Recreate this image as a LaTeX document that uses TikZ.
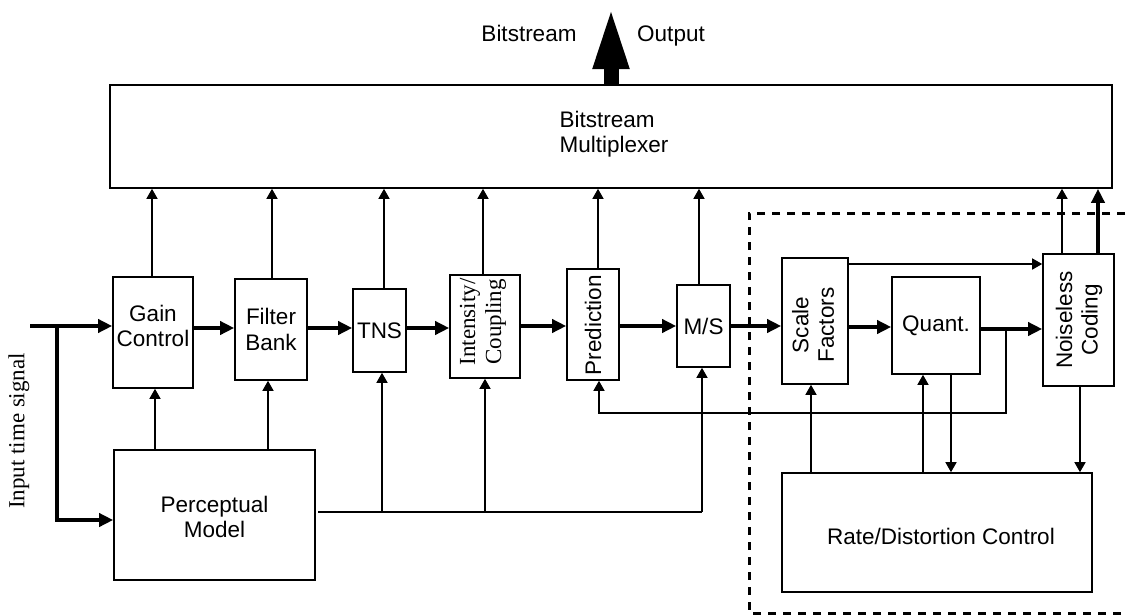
\documentclass[tikz,border=0pt]{standalone}
\usepackage{fontspec}
\setmainfont{Liberation Serif}
\newfontfamily\arial{Liberation Sans}
\usetikzlibrary{arrows.meta}
\begin{document}
\begin{tikzpicture}[x=1pt,y=-1pt,
  blk/.style={draw, line width=1.6pt, inner sep=0pt, rectangle},
  txt/.style={font=\arial\fontsize{22.5}{25.5}\selectfont, align=center, inner sep=0pt},
  stxt/.style={font=\fontsize{23}{26}\selectfont, align=center, inner sep=0pt},
  thk/.style={line width=4pt, -{Triangle[length=14pt,width=13pt]}},
  thkline/.style={line width=4pt},
  thn/.style={line width=1.5pt, -{Triangle[length=10pt,width=11pt]}},
  thnline/.style={line width=1.5pt},
  big/.style={line width=15pt, -{Triangle[length=64pt,width=32pt]}},
  dashbox/.style={line width=3pt, dash pattern=on 8pt off 7pt}]
\useasboundingbox (0,0) rectangle (1128,616);

% boxes
\node[blk, minimum width=1002pt, minimum height=103pt] (mux) at (611,136.5) {};
\node[txt, align=left] (muxt) at (614,134) {Bitstream\\Multiplexer};
\node[blk, minimum width=80pt, minimum height=111pt] (gain) at (153,332.5) {};
\node[txt] (gaint) at (153,326) {Gain\\Control};
\node[blk, minimum width=72pt, minimum height=101pt, txt] (filt) at (271,329.5) {Filter\\Bank};
\node[blk, minimum width=53pt, minimum height=83pt, txt] (tns) at (379.5,330.5) {TNS};
\node[blk, minimum width=70pt, minimum height=103pt] (inten) at (485,326.5) {};
\node[stxt, rotate=90] (intent) at (483,322) {Intensity/\\Coupling};
\node[blk, minimum width=52pt, minimum height=111pt] (pred) at (593,324.5) {};
\node[txt, rotate=90] (predt) at (593,325) {Prediction};
\node[blk, minimum width=53pt, minimum height=82pt, txt] (ms) at (703.5,326) {M/S};
\node[blk, minimum width=201pt, minimum height=130pt] (pm) at (214.5,515) {};
\node[txt] (pmt) at (214.5,517) {Perceptual\\Model};
\node[blk, minimum width=66pt, minimum height=126pt] (sf) at (815,321) {};
\node[txt, rotate=90] (sft) at (813,325) {Scale\\Factors};
\node[blk, minimum width=88pt, minimum height=97pt, txt] (quant) at (936,325.5) {Quant.};
\node[blk, minimum width=71pt, minimum height=132pt] (nc) at (1078.5,320) {};
\node[txt, rotate=90] (nct) at (1079,320) {Noiseless\\Coding};
\node[blk, minimum width=310pt, minimum height=119pt] (rd) at (937,532.5) {};
\node[txt] (rdt) at (941,536) {Rate/Distortion Control};

% labels
\node[txt, anchor=base] (bsl) at (529,41) {Bitstream};
\node[txt, anchor=base] (outl) at (671,41) {Output};
\node[stxt, rotate=90] (inl) at (19,431) {Input time signal};

% dashed region
\draw[dashbox] (1140,213) -- (749,213) -- (749,613) -- (1140,613);

% output arrow
\coordinate (outtip) at (611,5);
\draw[big] (mux.north) -- (outtip);

% y levels
\coordinate (y326) at (0,326);
\coordinate (y327) at (0,327);
\coordinate (y328) at (0,328);
\coordinate (y329) at (0,329);
\coordinate (y264) at (0,264);
\coordinate (y512) at (0,512);
\coordinate (y520) at (0,520);
\coordinate (y413) at (0,413);

% main signal path
\coordinate (in) at (30,326);
\coordinate (br) at (57,326);
\draw[thk] (in) -- (in -| gain.west);
\draw[thk] (br) |- (pm.west |- y520);
\draw[thk] (gain.east |- y328) -- (filt.west |- y328);
\draw[thk] (filt.east |- y328) -- (tns.west |- y328);
\draw[thk] (tns.east |- y328) -- (inten.west |- y328);
\draw[thk] (inten.east |- y326) -- (pred.west |- y326);
\draw[thk] (pred.east |- y326) -- (ms.west |- y326);
\draw[thk] (ms.east |- y326) -- (sf.west |- y326);
\draw[thk] (sf.east |- y327) -- (quant.west |- y327);
\draw[thk] (quant.east |- y329) -- (nc.west |- y329);

% to multiplexer
\coordinate (gx) at (152,0);
\coordinate (fx) at (272,0);
\coordinate (tx) at (384,0);
\coordinate (ix) at (483,0);
\coordinate (px) at (598,0);
\coordinate (mx) at (699,0);
\coordinate (n1x) at (1062,0);
\coordinate (n2x) at (1098,0);
\draw[thn] (gx |- gain.north) -- (gx |- mux.south);
\draw[thn] (fx |- filt.north) -- (fx |- mux.south);
\draw[thn] (tx |- tns.north) -- (tx |- mux.south);
\draw[thn] (ix |- inten.north) -- (ix |- mux.south);
\draw[thn] (px |- pred.north) -- (px |- mux.south);
\draw[thn] (mx |- ms.north) -- (mx |- mux.south);
\draw[thn] (n1x |- nc.north) -- (n1x |- mux.south);
\draw[thk] (n2x |- nc.north) -- (n2x |- mux.south);

% perceptual model outputs
\coordinate (pgx) at (155,0);
\coordinate (pfx) at (268,0);
\coordinate (ptx) at (382,0);
\coordinate (pix) at (485,0);
\coordinate (pmx) at (702,0);
\coordinate (pmo) at (318,512);
\draw[thn] (pgx |- pm.north) -- (pgx |- gain.south);
\draw[thn] (pfx |- pm.north) -- (pfx |- filt.south);
\draw[thnline] (pmo) -- (pmx |- y512);
\draw[thn] (ptx |- y512) -- (ptx |- tns.south);
\draw[thn] (pix |- y512) -- (pix |- inten.south);
\draw[thn] (pmx |- y512) -- (pmx |- ms.south);

% prediction feedback
\coordinate (qb) at (1006,329);
\coordinate (ppx) at (599,0);
\draw[thn] (qb) |- (ppx |- y413) -- (ppx |- pred.south);

% scale factors to noiseless coding
\draw[thn] (sf.east |- y264) -- (nc.west |- y264);

% rate/distortion loop
\coordinate (rsx) at (811,0);
\coordinate (rqx) at (923,0);
\coordinate (qrx) at (951,0);
\coordinate (nrx) at (1080,0);
\draw[thn] (rsx |- rd.north) -- (rsx |- sf.south);
\draw[thn] (rqx |- rd.north) -- (rqx |- quant.south);
\draw[thn] (qrx |- quant.south) -- (qrx |- rd.north);
\draw[thn] (nrx |- nc.south) -- (nrx |- rd.north);
\end{tikzpicture}
\end{document}
